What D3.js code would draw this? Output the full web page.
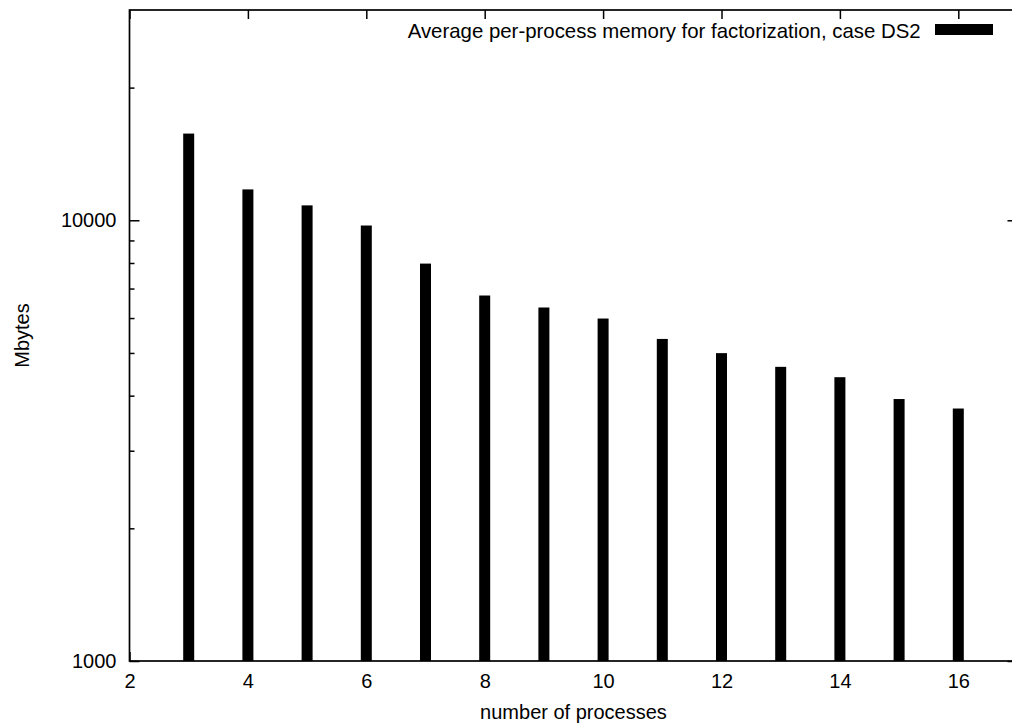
<!DOCTYPE html>
<html>
<head>
<meta charset="utf-8">
<script src="https://cdn.jsdelivr.net/npm/d3@7"></script>
<style>
  body { margin: 0; background: white; }
  svg { display: block; font-family: "Liberation Sans", Arial, sans-serif; }
</style>
</head>
<body>
<svg id="chart"></svg>
<script>
// number of processes and average per-process memory (Mbytes)
const procs = [3, 4, 5, 6, 7, 8, 9, 10, 11, 12, 13, 14, 15, 16];
const memory = [15730, 11750, 10810, 9730, 7975, 6750, 6340, 5985, 5380, 4995, 4650, 4405, 3930, 3740];

const xTicks = [2, 4, 6, 8, 10, 12, 14, 16];
const yMajor = [1000, 10000];
const yMinor = [2000, 3000, 4000, 5000, 6000, 7000, 8000, 9000, 20000];

const legendLabel = "Average per-process memory for factorization, case DS2";

const width = 1012, height = 726;
const plotL = 129.5, plotR = 1017.5, plotT = 10, plotB = 661;

const svg = d3.select("#chart")
    .attr("width", width)
    .attr("height", height);

const x = d3.scaleLinear().domain([2, 17]).range([plotL, plotR]);
const y = d3.scaleLog().domain([1000, 30000]).range([plotB, plotT]);

//bars (impulses)
const barW = 11;
svg.append("g")
    .selectAll("rect")
    .data(procs.map((p, i) => ({ p, v: memory[i] })))
    .join("rect")
    .attr("x", d => x(d.p) - barW / 2)
    .attr("y", d => y(d.v))
    .attr("width", barW)
    .attr("height", d => y(1000) - y(d.v))
    .attr("fill", "black");

//axes, ticks point inward
function styleAxis(g) {
    g.select(".domain").remove();
    g.selectAll(".tick line").attr("stroke", "black").attr("stroke-width", 1.5);
    g.selectAll("text").attr("fill", "black").style("font-size", "20px");
}

svg.append("g")
    .attr("transform", `translate(0,${plotB})`)
    .call(d3.axisBottom(x).tickValues(xTicks).tickSize(-9).tickPadding(13).tickFormat(d3.format("d")))
    .call(styleAxis);

svg.append("g")
    .attr("transform", `translate(0,${plotT})`)
    .call(d3.axisTop(x).tickValues(xTicks).tickSize(-9).tickFormat(""))
    .call(styleAxis);

svg.append("g")
    .attr("transform", `translate(${plotL},0)`)
    .call(d3.axisLeft(y).tickValues(yMajor).tickSize(-10).tickPadding(13).tickFormat(d3.format("d")))
    .call(styleAxis);

svg.append("g")
    .attr("transform", `translate(${plotL},0)`)
    .call(d3.axisLeft(y).tickValues(yMinor).tickSize(-5).tickFormat(""))
    .call(styleAxis);

svg.append("g")
    .attr("transform", `translate(${plotR},0)`)
    .call(d3.axisRight(y).tickValues(yMajor).tickSize(-10).tickFormat(""))
    .call(styleAxis);

svg.append("g")
    .attr("transform", `translate(${plotR},0)`)
    .call(d3.axisRight(y).tickValues(yMinor).tickSize(-5).tickFormat(""))
    .call(styleAxis);

//border
svg.append("rect")
    .attr("x", plotL)
    .attr("y", plotT)
    .attr("width", plotR - plotL)
    .attr("height", plotB - plotT)
    .attr("fill", "none")
    .attr("stroke", "black")
    .attr("stroke-width", 1.7);

//axis titles
svg.append("text")
    .attr("x", (plotL + plotR) / 2)
    .attr("y", 719)
    .attr("text-anchor", "middle")
    .style("font-size", "20px")
    .text("number of processes");

svg.append("text")
    .attr("transform", `translate(28.5,${(plotT + plotB) / 2}) rotate(-90)`)
    .attr("text-anchor", "middle")
    .style("font-size", "20px")
    .text("Mbytes");

//legend
const legend = svg.append("g");
legend.append("text")
    .attr("x", 920.7)
    .attr("y", 37.8)
    .attr("text-anchor", "end")
    .style("font-size", "20.4px")
    .text(legendLabel);
legend.append("rect")
    .attr("x", 935)
    .attr("y", 24)
    .attr("width", 58)
    .attr("height", barW)
    .attr("fill", "black");
</script>
</body>
</html>
